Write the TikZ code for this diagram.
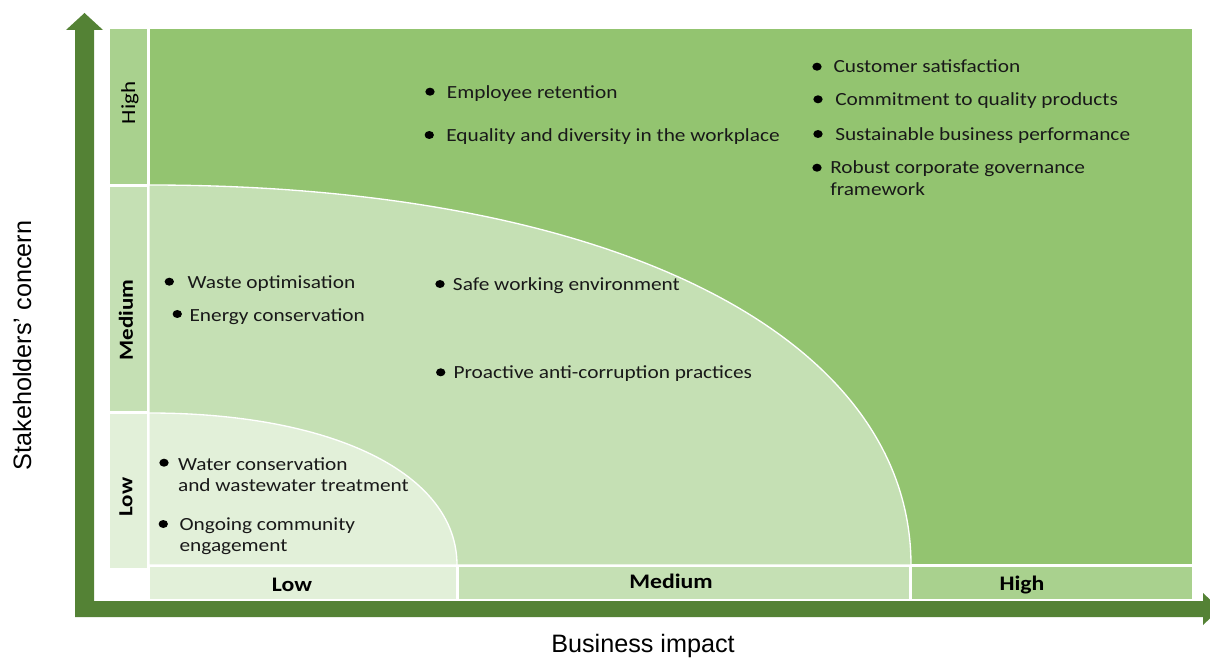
\documentclass[tikz,border=0pt]{standalone}
\usepackage{fontspec}
\setmainfont{Carlito}[FakeStretch=1.15]
\newfontfamily\axisfont{Liberation Sans}
\usetikzlibrary{shapes.geometric}

\definecolor{axisgreen}{HTML}{548235}
\definecolor{zonehigh}{HTML}{93C470}
\definecolor{tabhigh}{HTML}{A9D18E}
\definecolor{zonemed}{HTML}{C5E0B4}
\definecolor{zonelow}{HTML}{E2F0D9}

\newcommand\twolines[2]{\vtop{\hbox{#1}\hbox{#2}}}

\tikzset{
  zone/.style={draw=white, line width=1pt},
  dot/.style={ellipse, fill=black, inner sep=0pt, minimum width=7pt, minimum height=6pt},
  item/.style={anchor=base west, inner sep=0pt, font=\fontsize{13.9}{16}\selectfont, text=black!90},
  scalelab/.style={inner sep=0pt, font=\fontsize{15.5}{18}\selectfont\bfseries},
  sidelab/.style={inner sep=0pt, rotate=90, font=\fontsize{15}{17}\selectfont},
  axislab/.style={inner sep=0pt, font=\axisfont\fontsize{18.9}{22}\selectfont},
}

\begin{document}
\begin{tikzpicture}[x=0.75pt, y=-0.75pt]
\useasboundingbox (0,0) rectangle (1210,659);

% axes: one L-shaped band with an arrowhead at each end
\fill[axisgreen] (75,617) -- (75,30) -- (66,30) -- (84.5,13) -- (103,30) -- (94,30)
  -- (94,601) -- (1203,601) -- (1203,593) -- (1220,609) -- (1203,625) -- (1203,617) -- cycle;

% materiality zones
\fill[zonehigh, zone] (149,28) rectangle (1193,565);
\path[fill=zonemed, zone] (149,185) .. controls (615,185) and (911,337) .. (911,565) -- (149,565) -- cycle;
\path[fill=zonelow, zone] (149,413) .. controls (334,413) and (457,474) .. (457,565) -- (149,565) -- cycle;

% scale tabs, left column
\path[fill=tabhigh, zone] (109,28) rectangle (148,185);
\path[fill=zonemed, zone] (109,186) rectangle (148,412);
\path[fill=zonelow, zone] (109,413) rectangle (148,569);

% scale tabs, bottom row
\path[fill=zonelow, zone] (149,566) rectangle (457,600);
\path[fill=zonemed, zone] (458,566) rectangle (910,600);
\path[fill=tabhigh, zone] (911,566) rectangle (1193,600);

% scale labels
\node[sidelab] (vhigh) at (130,103) {High};
\node[sidelab, font=\fontsize{15}{17}\selectfont\bfseries] (vmed) at (126,320) {Medium};
\node[sidelab, font=\fontsize{15}{17}\selectfont\bfseries] (vlow) at (126,497) {Low};
\node[scalelab, anchor=base] (hlow) at (292,591.5) {Low};
\node[scalelab, anchor=base] (hmed) at (671,588.5) {Medium};
\node[scalelab, anchor=base] (hhigh) at (1022,590.5) {High};

% axis titles
\node[axislab, rotate=90] (ytitle) at (22,345.5) {Stakeholders’ concern};
\node[axislab, anchor=base] (xtitle) at (643,652.5) {Business impact};

% high / high
\node[dot] (d1) at (817,66.7) {};
\node[item] (t1) at (833.3,72.3) {Customer satisfaction};
\node[dot] (d2) at (818,99.3) {};
\node[item] (t2) at (835,105.7) {Commitment to quality products};
\node[dot] (d3) at (818,134) {};
\node[item] (t3) at (835,140.7) {Sustainable business performance};
\node[dot] (d4) at (817,167.7) {};
\node[item] (t4) at (830,174) {\twolines{Robust corporate governance}{framework}};

% high concern, medium impact
\node[dot] (d5) at (430,91.7) {};
\node[item] (t5) at (446.7,99) {Employee retention};
\node[dot] (d6) at (429.3,135) {};
\node[item] (t6) at (446,141.5) {Equality and diversity in the workplace};

% medium zone
\node[dot] (d7) at (169.3,281.7) {};
\node[item] (t7) at (187.3,289) {Waste optimisation};
\node[dot] (d8) at (177.3,314) {};
\node[item] (t8) at (189.3,321) {Energy conservation};
\node[dot] (d9) at (440,284) {};
\node[item] (t9) at (452.7,291) {Safe working environment};
\node[dot] (d10) at (440.7,372.3) {};
\node[item] (t10) at (453.3,378.3) {Proactive anti-corruption practices};

% low zone
\node[dot] (d11) at (164,462.7) {};
\node[item] (t11) at (177.8,470) {\twolines{Water conservation}{and wastewater treatment}};
\node[dot] (d12) at (163.3,524) {};
\node[item] (t12) at (179.3,530) {\twolines{Ongoing community}{engagement}};
\end{tikzpicture}
\end{document}
